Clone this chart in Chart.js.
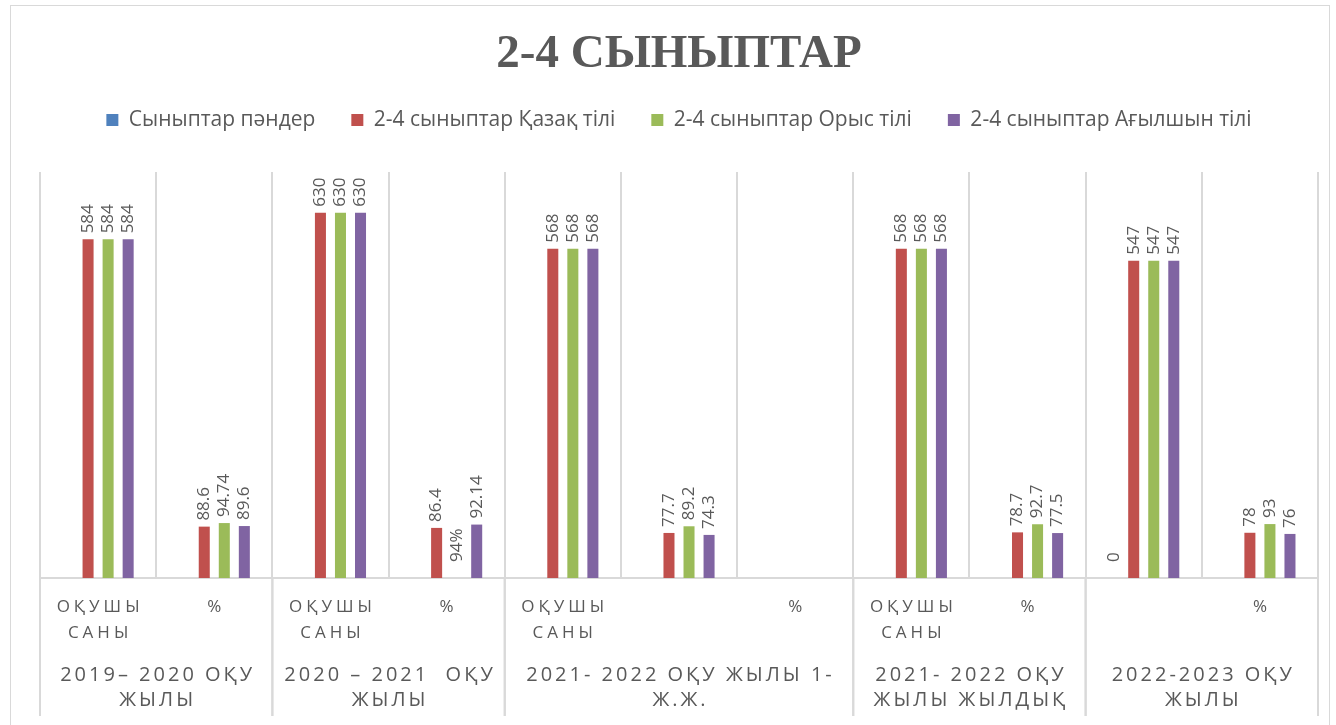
<!DOCTYPE html>
<html>
<head>
<meta charset="utf-8">
<script src="https://cdn.jsdelivr.net/npm/chart.js@4.4.1/dist/chart.umd.min.js"></script>
<style>
  html, body { margin: 0; padding: 0; background: #fff; }
  #wrap { width: 1336px; height: 725px; }
</style>
</head>
<body>
<div id="wrap"><canvas id="chart"></canvas></div>
<script>
// категориялар (11 бағана)
const categories = ['19-20 саны', '19-20 %', '20-21 саны', '20-21 %', '21-22 1 саны', '21-22 1 a', '21-22 1 %',
  '21-22 ж саны', '21-22 ж %', '22-23 a', '22-23 %'];
const subLabels = [['ОҚУШЫ', 'САНЫ'], ['%'], ['ОҚУШЫ', 'САНЫ'], ['%'], ['ОҚУШЫ', 'САНЫ'], [''], ['%'],
  ['ОҚУШЫ', 'САНЫ'], ['%'], [''], ['%']];
const groupLabels = [['2019– 2020 ОҚУ', 'ЖЫЛЫ'], ['2020 – 2021  ОҚУ', 'ЖЫЛЫ'], ['2021- 2022 ОҚУ ЖЫЛЫ 1-', 'Ж.Ж.'],
  ['2021- 2022 ОҚУ', 'ЖЫЛЫ ЖЫЛДЫҚ'], ['2022-2023 ОҚУ', 'ЖЫЛЫ']];
const groupSizes = [2, 2, 3, 2, 2];

const seriesNames = ['Сыныптар пәндер', '2-4 сыныптар Қазақ тілі', '2-4 сыныптар Орыс тілі', '2-4 сыныптар Ағылшын тілі'];
const seriesColors = ['#4F81BD', '#C0504D', '#9BBB59', '#8064A2'];
const panderValues = [null, null, null, null, null, null, null, null, null, 0, null];
const kazakhValues = [584, 88.6, 630, 86.4, 568, 77.7, null, 568, 78.7, 547, 78];
const russianValues = [584, 94.74, 630, 0, 568, 89.2, null, 568, 92.7, 547, 93];
const englishValues = [584, 89.6, 630, 92.14, 568, 74.3, null, 568, 77.5, 547, 76];
// кестедегі мәтін "94%" (графикте 0 болып шыққан)
const labelOverrides = { 2: { 3: '94%' } };

const gray = '#595959';
const lineGray = '#d9d9d9';

function spacedText(ctx, txt, cx, y, spacing) {
  ctx.letterSpacing = spacing + 'px';
  ctx.fillText(txt, cx + spacing / 2, y);
}

// бағана үстіндегі тік жазулар
const barLabels = {
  id: 'barLabels',
  afterDatasetsDraw(chart) {
    const ctx = chart.ctx;
    ctx.save();
    ctx.font = '17px "Open Sans"';
    ctx.fillStyle = gray;
    ctx.textAlign = 'left';
    ctx.textBaseline = 'middle';
    chart.data.datasets.forEach((ds, di) => {
      chart.getDatasetMeta(di).data.forEach((bar, i) => {
        const v = ds.data[i];
        if (v === null || v === undefined) return;
        const txt = (labelOverrides[di] && labelOverrides[di][i]) || String(v);
        const gap = v === 0 ? 16 : 6;
        ctx.save();
        ctx.translate(bar.x, bar.y - gap);
        ctx.rotate(-Math.PI / 2);
        ctx.fillText(txt, 0, 0);
        ctx.restore();
      });
    });
    ctx.restore();
  }
};

// екі деңгейлі ось жазулары және шекаралар
const multiAxis = {
  id: 'multiAxis',
  afterDraw(chart) {
    const ctx = chart.ctx;
    const xs = chart.scales.x;
    const area = chart.chartArea;
    const half = (xs.getPixelForValue(1) - xs.getPixelForValue(0)) / 2;
    ctx.save();
    ctx.fillStyle = gray;
    ctx.textAlign = 'center';
    ctx.textBaseline = 'middle';
    ctx.font = '17px "Open Sans"';
    subLabels.forEach((lines, i) => {
      const cx = xs.getPixelForValue(i);
      lines.forEach((t, k) => spacedText(ctx, t, cx, 607 + k * 26, 4));
    });
    ctx.font = '20px "Open Sans"';
    ctx.strokeStyle = lineGray;
    ctx.lineWidth = 2;
    let start = 0;
    groupSizes.forEach((n, g) => {
      const left = xs.getPixelForValue(start) - half;
      const right = xs.getPixelForValue(start + n - 1) + half;
      [left, right].forEach(x => {
        ctx.beginPath();
        ctx.moveTo(x, area.bottom);
        ctx.lineTo(x, 716);
        ctx.stroke();
      });
      groupLabels[g].forEach((t, k) => spacedText(ctx, t, (left + right) / 2, 675 + k * 25, 3));
      start += n;
    });
    ctx.letterSpacing = '0px';
    ctx.lineWidth = 1;
    ctx.strokeRect(10.5, 5.5, 1319, 740);
    ctx.restore();
  }
};

const datasets = [panderValues, kazakhValues, russianValues, englishValues].map((vals, i) => ({
  label: seriesNames[i],
  data: vals,
  backgroundColor: seriesColors[i],
  borderWidth: 0
}));

new Chart(document.getElementById('chart'), {
  type: 'bar',
  data: { labels: categories, datasets: datasets },
  options: {
    responsive: true,
    maintainAspectRatio: false,
    animation: false,
    categoryPercentage: 0.69,
    barPercentage: 0.55,
    layout: { padding: { left: 40, right: 18, top: 5, bottom: 147 } },
    plugins: {
      title: {
        display: true,
        text: '2-4 СЫНЫПТАР',
        color: gray,
        font: { family: '"Liberation Serif"', size: 47, weight: 'bold', lineHeight: 0.8 },
        padding: { top: 31, bottom: 0 }
      },
      legend: {
        position: 'top',
        labels: {
          color: gray,
          boxWidth: 12,
          boxHeight: 12,
          padding: 36,
          font: { family: '"Open Sans"', size: 21 }
        }
      },
      tooltip: { enabled: false }
    },
    scales: {
      x: {
        ticks: { display: false },
        grid: { offset: true, color: lineGray, lineWidth: 2, drawTicks: false },
        border: { display: true, color: lineGray, width: 2 }
      },
      gap: {
        type: 'category',
        position: 'top',
        ticks: { display: false },
        grid: { display: false },
        border: { display: false },
        afterFit(scale) { scale.height = 31.5; }
      },
      y: {
        display: false,
        min: 0,
        max: 700
      }
    }
  },
  plugins: [barLabels, multiAxis]
});
</script>
</body>
</html>
